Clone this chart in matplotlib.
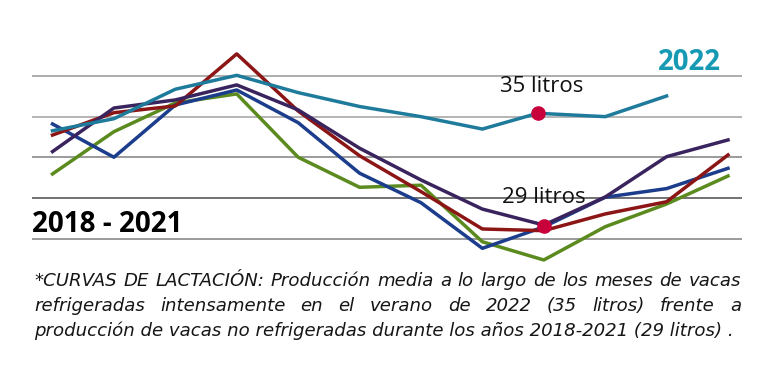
import numpy as np
import matplotlib
matplotlib.use('Agg')
import matplotlib.pyplot as plt

# average milk per cow (litres), one value per month
months = list(range(12))
litros_2022 = [34.07, 34.71, 36.28, 37.02, 36.10, 35.36, 34.82, 34.16, 35.00, 34.82, 35.92]
litros_azul = [34.43, 32.66, 35.44, 36.24, 34.50, 31.81, 30.24, 27.81, 28.95, 30.53, 30.99, 32.07]
litros_rojo = [33.84, 35.03, 35.39, 38.16, 35.12, 32.74, 30.83, 28.84, 28.75, 29.64, 30.29, 32.78]
litros_morado = [32.96, 35.28, 35.71, 36.51, 35.18, 33.14, 31.45, 29.90, 29.05, 30.54, 32.69, 33.58]
litros_verde = [31.77, 34.02, 35.55, 36.03, 32.66, 31.06, 31.17, 28.16, 27.19, 28.96, 30.17, 31.66]

# highlighted points: (month, litres, label)
marca_2022 = (7.9, 35.0, '35 litros')
marca_antes = (8, 29.0, '29 litros')

caption = ["*CURVAS DE LACTACIÓN: Producción media a lo largo de los meses de vacas",
           "refrigeradas intensamente en el verano de 2022 (35 litros) frente a",
           "producción de vacas no refrigeradas durante los años 2018-2021 (29 litros) ."]

W, H = 773, 374
fig = plt.figure(figsize=(W / 100, H / 100), dpi=100)
ax = fig.add_axes([32 / W, 0, (742 - 32) / W, 1])
ax.set_xlim(-0.334, 11.228)
ax.set_ylim(21.12, 41.03)
ax.axis('off')

grid_levels = np.linspace(28.31, 37.0, 5)
grid_colors = ['#8a8a8a', '#5a5a5a', '#8a8a8a', '#a8a8a8', '#a0a0a0']
for lvl, c in zip(grid_levels, grid_colors):
    ax.axhline(lvl, color=c, lw=1.2, zorder=1)

lw = 2.5
x22 = months[:len(litros_2022)]
x22[8] = marca_2022[0]
ax.plot(x22, litros_2022, color='#1f7b9c', lw=lw, zorder=3)
ax.plot(months, litros_verde, color='#5b8a1f', lw=lw, zorder=2)
ax.plot(months, litros_azul, color='#1c3d8c', lw=lw, zorder=2)
ax.plot(months, litros_rojo, color='#8c1616', lw=lw, zorder=2)
ax.plot(months, litros_morado, color='#3a245e', lw=lw, zorder=2)

for m, v, lab in [marca_2022, marca_antes]:
    ax.plot(m, v, 'o', color='#c8003c', ms=9.5, zorder=5)

ax.text(marca_2022[0] + 0.06, marca_2022[1] + 1.15, marca_2022[2], ha='center', va='baseline',
        fontsize=16, family='Open Sans', color='#111111', zorder=6)
ax.text(marca_antes[0], marca_antes[1] + 1.2, marca_antes[2], ha='center', va='baseline',
        fontsize=16, family='Open Sans', color='#111111', zorder=6)


def px(x, y):
    return x / W, 1 - y / H


fig.text(*px(658, 69.5), '2022', fontsize=19.8, fontweight='bold', family='Open Sans',
         color='#1699b3', va='baseline', ha='left')
fig.text(*px(32, 231.5), '2018 - 2021', fontsize=20, fontweight='bold', family='Open Sans',
         color='#000000', va='baseline', ha='left')

# caption, justified like the original
cap_font = dict(family='DejaVu Sans', style='oblique', color='#161616')
renderer = fig.canvas.get_renderer()


def width(s, size):
    t = fig.text(0, 0, s, fontsize=size, **cap_font)
    w = t.get_window_extent(renderer).width
    t.remove()
    return w


size = 11
size = size * 698 / width(caption[2], size)
left, right = 34, 741
baselines = [286, 311, 336]
for i, (line, yb) in enumerate(zip(caption, baselines)):
    if i == 2:
        fig.text(*px(left, yb), line, fontsize=size, va='baseline', **cap_font)
        continue
    words = line.split(' ')
    ws = [width(w, size) for w in words]
    gap = (right - left - sum(ws)) / (len(words) - 1)
    x = left
    for w, wd in zip(words, ws):
        fig.text(*px(x, yb), w, fontsize=size, va='baseline', **cap_font)
        x += wd + gap

fig.savefig('out.png', dpi=100)
